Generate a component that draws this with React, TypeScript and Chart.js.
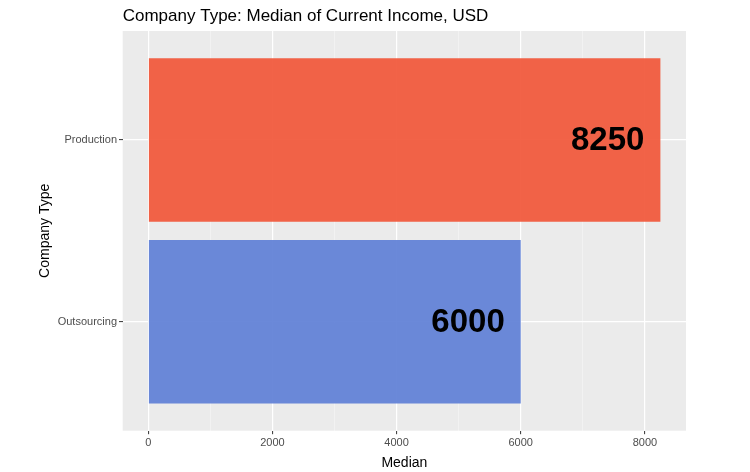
import { useEffect, useRef } from "react";
import Chart from "chart.js/auto";

const categories = ["Outsourcing", "Production"];
const medians = [6000, 8250];
const barColors = ["rgba(94, 127, 214, 0.92)", "rgba(241, 86, 56, 0.92)"];
const xTicks = [0, 1000, 2000, 3000, 4000, 5000, 6000, 7000, 8000];

const FONT = "'Liberation Sans', Arial, sans-serif";

const panelBackground = {
  id: "panelBackground",
  beforeDraw(chart: Chart) {
    const { ctx, chartArea } = chart;
    ctx.save();
    ctx.fillStyle = "#EBEBEB";
    ctx.fillRect(chartArea.left, chartArea.top, chartArea.right - chartArea.left, chartArea.bottom - chartArea.top);
    ctx.restore();
  },
};

const barValueLabels = {
  id: "barValueLabels",
  afterDatasetsDraw(chart: Chart) {
    const { ctx } = chart;
    const meta = chart.getDatasetMeta(0);
    ctx.save();
    ctx.font = `bold 33px ${FONT}`;
    ctx.fillStyle = "#000000";
    ctx.textAlign = "right";
    ctx.textBaseline = "middle";
    meta.data.forEach((bar: any, i: number) => {
      ctx.fillText(String(medians[i]), bar.x - 16, bar.y + 1);
    });
    ctx.restore();
  },
};

export default function App() {
  const canvasRef = useRef<HTMLCanvasElement | null>(null);
  const chartRef = useRef<Chart | null>(null);

  useEffect(() => {
    if (!canvasRef.current) return;
    if (chartRef.current) chartRef.current.destroy();

    chartRef.current = new Chart(canvasRef.current, {
      type: "bar",
      data: {
        datasets: [
          {
            data: medians.map((v, i) => ({ x: v, y: i })),
            backgroundColor: barColors,
            borderWidth: 0,
            barPercentage: 0.9,
            categoryPercentage: 1,
          },
        ],
      },
      options: {
        indexAxis: "y",
        animation: false,
        responsive: true,
        maintainAspectRatio: false,
        layout: { padding: { left: 0, right: 64, top: 0, bottom: 0 } },
        plugins: {
          legend: { display: false },
          tooltip: { enabled: false },
          title: {
            display: true,
            text: "Company Type: Median of Current Income, USD",
            align: "start",
            fullSize: false,
            color: "#000000",
            font: { family: FONT, size: 17, weight: "normal" },
            padding: { top: 6, bottom: 4.6 },
          },
        },
        scales: {
          x: {
            type: "linear",
            min: -412.5,
            max: 8662.5,
            offset: false,
            afterFit: (scale: any) => {
              scale.height = 41.3;
            },
            afterBuildTicks: (scale: any) => {
              scale.ticks = xTicks.map((value) => ({ value }));
            },
            border: { display: false },
            grid: {
              offset: false,
              color: (c: any) => (c.tick && c.tick.value % 2000 === 0 ? "#FFFFFF" : "rgba(255,255,255,0.6)"),
              lineWidth: (c: any) => (c.tick && c.tick.value % 2000 === 0 ? 1.2 : 0.6),
              tickColor: (c: any) => (c.tick && c.tick.value % 2000 === 0 ? "#333333" : "rgba(0,0,0,0)"),
              tickLength: 3.5,
              tickWidth: 1,
            },
            ticks: {
              autoSkip: false,
              maxRotation: 0,
              padding: 2.5,
              color: "#4D4D4D",
              font: { family: FONT, size: 11 },
              callback: (value: any) => (Number(value) % 2000 === 0 ? String(value) : ""),
            },
            title: {
              display: true,
              text: "Median",
              color: "#000000",
              font: { family: FONT, size: 14 },
              padding: { top: 3.6, bottom: 0 },
            },
          },
          y: {
            type: "linear",
            min: -0.6,
            max: 1.6,
            offset: false,
            afterFit: (scale: any) => {
              scale.width = 122.7;
            },
            afterBuildTicks: (scale: any) => {
              scale.ticks = categories.map((_, i) => ({ value: i }));
            },
            border: { display: false },
            grid: {
              offset: false,
              color: "#FFFFFF",
              lineWidth: 1.2,
              tickColor: "#333333",
              tickLength: 3.7,
              tickWidth: 1,
            },
            ticks: {
              autoSkip: false,
              padding: 2,
              color: "#4D4D4D",
              font: { family: FONT, size: 11 },
              callback: (value: any) => categories[Number(value)] ?? "",
            },
            title: {
              display: true,
              text: "Company Type",
              color: "#000000",
              font: { family: FONT, size: 14 },
              padding: { top: 37, bottom: 0 },
            },
          },
        },
      },
      plugins: [panelBackground, barValueLabels],
    } as any);

    return () => {
      if (chartRef.current) {
        chartRef.current.destroy();
        chartRef.current = null;
      }
    };
  }, []);

  return (
    <div style={{ position: "fixed", left: 0, top: 0, width: 750, height: 472, background: "#FFFFFF" }}>
      <canvas ref={canvasRef} />
    </div>
  );
}
